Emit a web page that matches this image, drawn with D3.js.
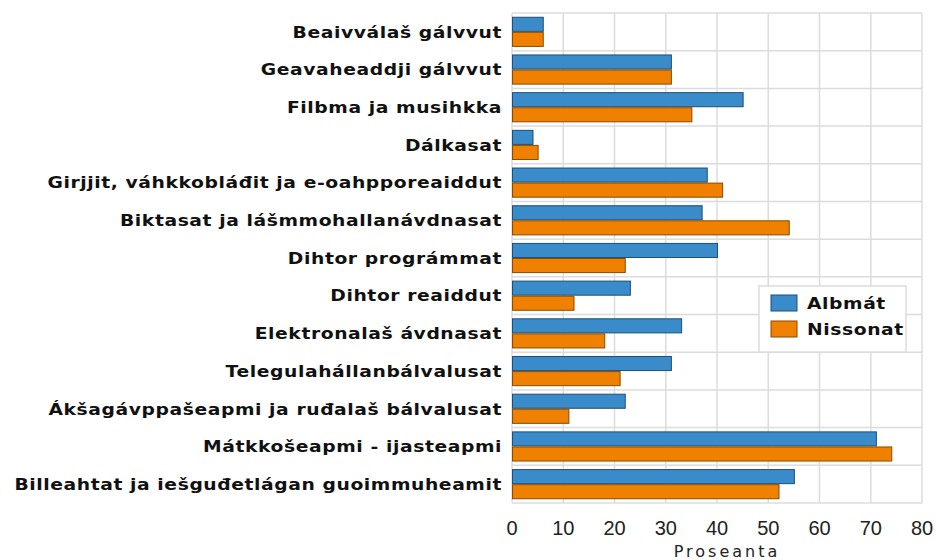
<!DOCTYPE html>
<html>
<head>
<meta charset="utf-8">
<script src="https://cdn.jsdelivr.net/npm/d3@7"></script>
<style>
  body { margin: 0; background: #fff; }
  svg { display: block; }
</style>
</head>
<body>
<div id="chart"></div>
<script>
// chart size
const width = 936;
const height = 560;
const margin = {left: 512, right: 14, top: 13, bottom: 57};

// data
const categories = [
  "Beaivválaš gálvvut",
  "Geavaheaddji gálvvut",
  "Filbma ja musihkka",
  "Dálkasat",
  "Girjjit, váhkkobláđit ja e-oahpporeaiddut",
  "Biktasat ja lášmmohallanávdnasat",
  "Dihtor prográmmat",
  "Dihtor reaiddut",
  "Elektronalaš ávdnasat",
  "Telegulahállanbálvalusat",
  "Ákšagávppašeapmi ja ruđalaš bálvalusat",
  "Mátkkošeapmi - ijasteapmi",
  "Billeahtat ja iešguđetlágan guoimmuheamit"
];
const albmat   = [6, 31, 45, 4, 38, 37, 40, 23, 33, 31, 22, 71, 55];
const nissonat = [6, 31, 35, 5, 41, 54, 22, 12, 18, 21, 11, 74, 52];
const seriesNames = ["Albmát", "Nissonat"];
const xTicks = [0, 10, 20, 30, 40, 50, 60, 70, 80];

const colors = ["#3a8bc9", "#f08000"];
const strokes = ["#1d4f78", "#8a4a00"];

// the original font is wide and heavy, stretch DejaVu a bit to get there
const stretch = 1.17;

const svg = d3.select("#chart")
  .append("svg")
  .attr("width", width)
  .attr("height", height);

// scales
const x = d3.scaleLinear()
  .domain([0, 80])
  .range([margin.left, width - margin.right]);

const y = d3.scaleBand()
  .domain(categories)
  .range([margin.top, height - margin.bottom])
  .paddingInner(0.2)
  .paddingOuter(0.1);

const y1 = d3.scaleBand()
  .domain([0, 1])
  .range([0, y.bandwidth()]);

const step = y.step();
const plotTop = margin.top;
const plotBottom = height - margin.bottom;

// grid: vertical lines
svg.append("g")
  .selectAll("line")
  .data(xTicks)
  .enter()
  .append("line")
    .attr("x1", d => x(d))
    .attr("x2", d => x(d))
    .attr("y1", plotTop)
    .attr("y2", plotBottom)
    .attr("stroke", "#dcdcdc")
    .attr("stroke-width", 1.5);

// grid: horizontal lines between the groups
svg.append("g")
  .selectAll("line")
  .data(d3.range(categories.length + 1))
  .enter()
  .append("line")
    .attr("x1", x(0))
    .attr("x2", x(80))
    .attr("y1", i => plotTop + i * step)
    .attr("y2", i => plotTop + i * step)
    .attr("stroke", "#dcdcdc")
    .attr("stroke-width", 1.5);

// bars
const groups = svg.append("g")
  .selectAll("g")
  .data(categories)
  .enter()
  .append("g")
    .attr("transform", d => `translate(0,${y(d)})`);

groups.selectAll("rect")
  .data((d, i) => [albmat[i], nissonat[i]])
  .enter()
  .append("rect")
    .attr("x", x(0) + 0.5)
    .attr("y", (d, j) => y1(j) + 0.5)
    .attr("width", d => x(d) - x(0))
    .attr("height", y1.bandwidth() - 1)
    .attr("fill", (d, j) => colors[j])
    .attr("stroke", (d, j) => strokes[j])
    .attr("stroke-width", 1);

// stretch a text element horizontally
function widen(sel) {
  sel.each(function() {
    const len = this.getComputedTextLength();
    d3.select(this)
      .attr("textLength", len * stretch)
      .attr("lengthAdjust", "spacingAndGlyphs");
  });
}

// category labels
svg.append("g")
  .selectAll("text")
  .data(categories)
  .enter()
  .append("text")
    .attr("x", margin.left - 10)
    .attr("y", d => y(d) + y.bandwidth() / 2)
    .attr("dy", "0.36em")
    .attr("text-anchor", "end")
    .attr("font-family", "'DejaVu Sans', sans-serif")
    .attr("font-weight", "bold")
    .attr("font-size", "16px")
    .attr("letter-spacing", "0.5px")
    .attr("fill", "#111")
    .text(d => d)
    .call(widen);

// x axis tick labels
svg.append("g")
  .selectAll("text")
  .data(xTicks)
  .enter()
  .append("text")
    .attr("x", d => x(d))
    .attr("y", plotBottom + 32)
    .attr("text-anchor", "middle")
    .attr("font-family", "'Liberation Sans', Arial, sans-serif")
    .attr("font-size", "20px")
    .attr("fill", "#222")
    .text(d => d);

svg.append("text")
  .attr("x", (x(0) + x(80)) / 2 + 10)
  .attr("y", plotBottom + 54)
  .attr("text-anchor", "middle")
  .attr("font-family", "'DejaVu Sans', sans-serif")
  .attr("font-size", "16px")
  .attr("letter-spacing", "3px")
  .attr("fill", "#222")
  .text("Proseanta");

// legend
const legend = svg.append("g")
  .attr("transform", "translate(759,286)");

legend.append("rect")
  .attr("width", 147)
  .attr("height", 66)
  .attr("fill", "#fff")
  .attr("stroke", "#dcdcdc")
  .attr("stroke-width", 1.5);

const items = legend.selectAll(".item")
  .data(seriesNames)
  .enter()
  .append("g")
    .attr("class", "item")
    .attr("transform", (d, i) => `translate(12,${9 + i * 26})`);

items.append("rect")
  .attr("width", 26)
  .attr("height", 16)
  .attr("fill", (d, i) => colors[i])
  .attr("stroke", (d, i) => strokes[i]);

items.append("text")
  .attr("x", 36)
  .attr("y", 8)
  .attr("dy", "0.36em")
  .attr("font-family", "'DejaVu Sans', sans-serif")
  .attr("font-weight", "bold")
  .attr("font-size", "16px")
  .attr("letter-spacing", "0.5px")
  .attr("fill", "#111")
  .text(d => d)
  .call(widen);
</script>
</body>
</html>
